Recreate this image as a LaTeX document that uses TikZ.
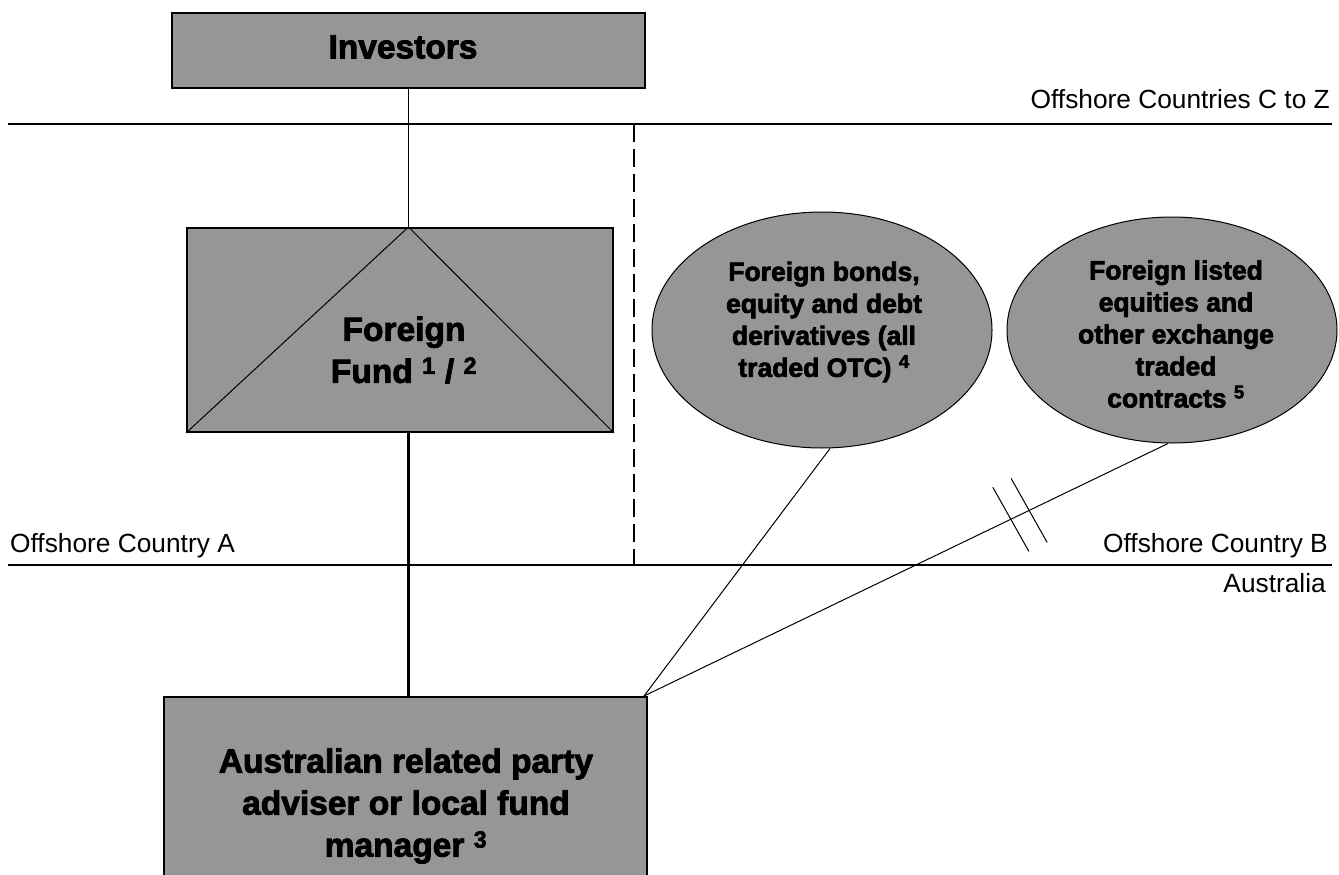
\documentclass[tikz,border=0pt]{standalone}
\usepackage{fontspec}
\setmainfont{Liberation Sans}
\newfontfamily\heavyfont[FakeBold=2.5]{Liberation Sans Bold}
\usetikzlibrary{shapes.geometric,calc}
\definecolor{boxgray}{HTML}{969696}
\begin{document}
\begin{tikzpicture}[x=1pt,y=-1pt,
  region/.style={line width=2pt},
  lbl/.style={font=\fontsize{26.3}{30}\selectfont, inner sep=0pt},
  box/.style={draw, line width=2pt, fill=boxgray, inner sep=0pt},
  oval/.style={draw, ellipse, line width=1pt, fill=boxgray, inner sep=0pt},
  bigtext/.style={font=\fontsize{33.5}{42}\selectfont\heavyfont, align=center, inner sep=0pt},
  smalltext/.style={font=\fontsize{26.5}{32}\selectfont\heavyfont, align=center, inner sep=0pt},
  conn/.style={line width=1pt},
  thick conn/.style={line width=2.5pt},
]
\useasboundingbox (0,0) rectangle (1339,875);
\clip (0,0) rectangle (1339,875);

% region boundaries
\draw[region] (8,124) -- (1332,124);
\draw[region] (8,565) -- (1332,565);
\draw[region, dash pattern=on 18pt off 7pt] (634,124) -- (634,565);

% region labels
\node[lbl, anchor=base east] (lz) at (1330,108) {Offshore Countries C to Z};
\node[lbl, anchor=base west] (la) at (10,552) {Offshore Country A};
\node[lbl, anchor=base east] (lb) at (1328,552) {Offshore Country B};
\node[lbl, anchor=base east] (lau) at (1326,592) {Australia};

% boxes
\node[box, minimum width=473, minimum height=75] (inv) at (408.5,50.5) {};
\node[bigtext] (invt) at (403,47) {Investors};

\node[box, minimum width=426, minimum height=204] (ff) at (400,330) {};
\coordinate (apex) at (ff.north -| inv.south);
\draw[conn] (ff.south west) -- (apex) -- (ff.south east);
\node[bigtext] (fft) at (404,350) {Foreign\\Fund \textsuperscript{1} / \textsuperscript{2}};

\node[box, minimum width=483, minimum height=200] (aus) at (405.5,797) {};
\node[bigtext] (aust) at (406,806) {Australian related party\\adviser or local fund\\manager \textsuperscript{3}};

% ellipses
\node[oval, minimum width=340, minimum height=236] (e1) at (822,330) {};
\node[smalltext] (e1t) at (824,322) {Foreign bonds,\\equity and debt\\derivatives (all\\traded OTC) \textsuperscript{4}};
\node[oval, minimum width=330, minimum height=226] (e2) at (1172,330) {};
\node[smalltext] (e2t) at (1176,334) {Foreign listed\\equities and\\other exchange\\traded\\contracts \textsuperscript{5}};

% connectors
\draw[conn] (inv.south) -- (apex);
\draw[thick conn] (ff.south -| apex) -- (aus.north -| apex);
\draw[conn] ([xshift=-4pt]aus.north east) -- ([xshift=8pt]e1.south);
\draw[conn] ([xshift=-4pt]aus.north east) -- ([xshift=-4pt]e2.south);

% break marks on the second connector
\coordinate (h1) at ($([xshift=-4pt]aus.north east)!0.70!([xshift=-4pt]e2.south)$);
\coordinate (h2) at ($([xshift=-4pt]aus.north east)!0.735!([xshift=-4pt]e2.south)$);
\draw[conn] ($(h1)+(-18,-32)$) -- ($(h1)+(18,32)$);
\draw[conn] ($(h2)+(-18,-32)$) -- ($(h2)+(18,32)$);
\end{tikzpicture}
\end{document}
